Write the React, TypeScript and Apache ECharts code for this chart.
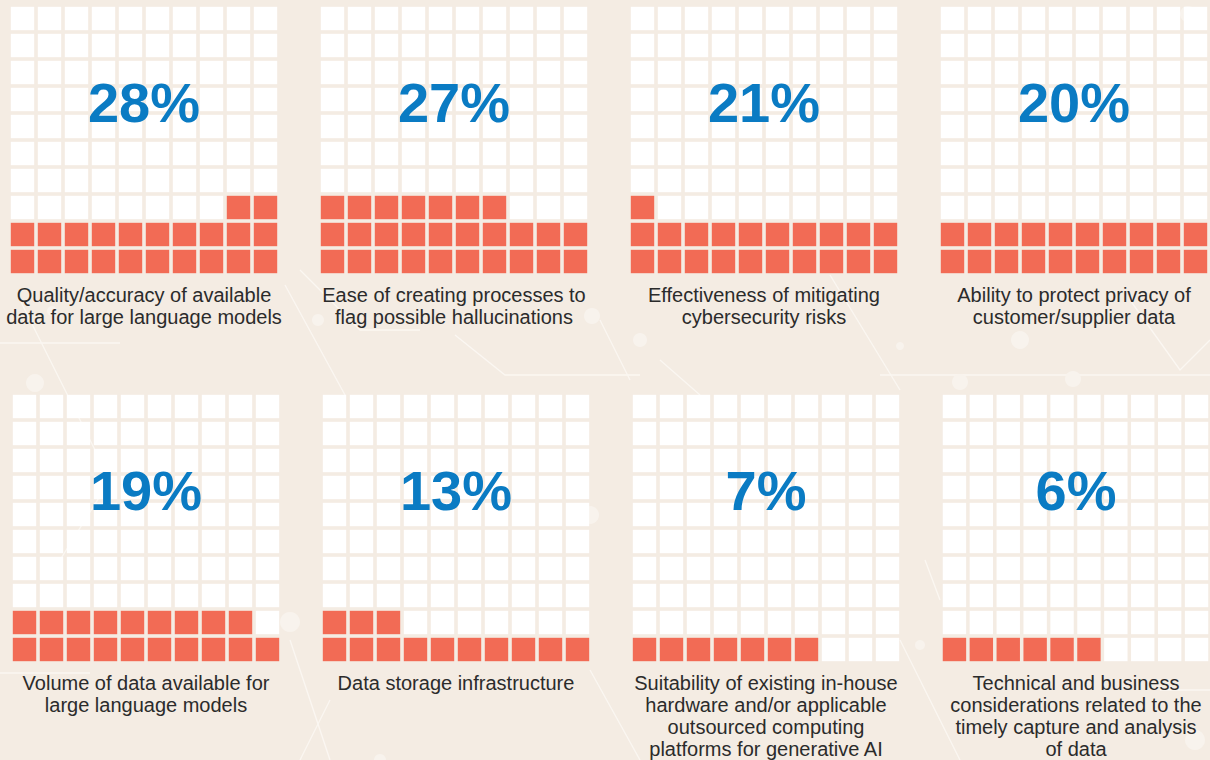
import React, { useEffect, useRef } from "react";
import * as echarts from "echarts";

// ---- data ----
const labels = [
  "Quality/accuracy of available\ndata for large language models",
  "Ease of creating processes to\nflag possible hallucinations",
  "Effectiveness of mitigating\ncybersecurity risks",
  "Ability to protect privacy of\ncustomer/supplier data",
  "Volume of data available for\nlarge language models",
  "Data storage infrastructure",
  "Suitability of existing in-house\nhardware and/or applicable\noutsourced computing\nplatforms for generative AI",
  "Technical and business\nconsiderations related to the\ntimely capture and analysis\nof data",
];
const percents = [28, 27, 21, 20, 19, 13, 7, 6];
// squares coloured in the reference waffle (out of 100)
const filledCells = [22, 27, 21, 20, 19, 13, 7, 6];
// side of the partial row where coloured squares sit
const partialAlign = ["right", "left", "left", "left", "left", "left", "left", "left"];

const COLS = 10;
const ROWS = 10;

// ---- layout / style ----
const BG = "#f4ece3";
const ORANGE = "#f26b55";
const BLUE = "#0a7bc3";
const TEXT = "#2b2b2b";
const GRID_SIZE = 270;
const CELL = 23.4;
const rowLefts = [
  [9, 319, 629, 939],
  [11, 321, 631, 941],
];
const rowTops = [5, 393];
const FONT = '"Liberation Sans", Arial, Helvetica, sans-serif';

function cellsFor(p: number) {
  const n = filledCells[p];
  const full = Math.floor(n / COLS);
  const rem = n % COLS;
  const filled = new Set<string>();
  for (let r = 0; r < full; r++) for (let c = 0; c < COLS; c++) filled.add(r + "," + c);
  for (let i = 0; i < rem; i++) {
    const c = partialAlign[p] === "right" ? COLS - 1 - i : i;
    filled.add(full + "," + c);
  }
  const data: any[] = [];
  for (let r = 0; r < ROWS; r++) {
    for (let c = 0; c < COLS; c++) {
      const on = filled.has(r + "," + c);
      data.push({ value: [c + 0.5, r + 0.5], itemStyle: { color: on ? ORANGE : "#ffffff", opacity: 1 } });
    }
  }
  return data;
}

const decoLine = (points: number[][]) => ({
  type: "polyline",
  silent: true,
  z: -10,
  shape: { points },
  style: { stroke: "#fbf7f2", lineWidth: 1.3, fill: null },
});
const decoCircle = (cx: number, cy: number, r: number) => ({
  type: "circle",
  silent: true,
  z: -10,
  shape: { cx, cy, r },
  style: { fill: "#f8f3ed" },
});

export default function App() {
  const ref = useRef<HTMLDivElement>(null);
  useEffect(() => {
    document.body.style.margin = "0";
    const chart = echarts.init(ref.current!, null, { renderer: "svg" });
    const grids: any[] = [];
    const xAxes: any[] = [];
    const yAxes: any[] = [];
    const series: any[] = [];
    const texts: any[] = [];
    for (let p = 0; p < percents.length; p++) {
      const row = Math.floor(p / 4);
      const col = p % 4;
      const left = rowLefts[row][col];
      const top = rowTops[row];
      grids.push({ left, top, width: GRID_SIZE, height: GRID_SIZE, containLabel: false });
      xAxes.push({ type: "value", gridIndex: p, min: 0, max: COLS, show: false });
      yAxes.push({ type: "value", gridIndex: p, min: 0, max: ROWS, show: false });
      series.push({
        type: "scatter",
        xAxisIndex: p,
        yAxisIndex: p,
        symbol: "rect",
        symbolSize: CELL,
        silent: true,
        itemStyle: { opacity: 1 },
        data: cellsFor(p),
      });
      const cx = left + GRID_SIZE / 2;
      texts.push({
        type: "text",
        z: 100,
        x: cx,
        y: top + 97,
        style: {
          text: percents[p] + "%",
          font: `bold 56px ${FONT}`,
          fill: BLUE,
          align: "center",
          verticalAlign: "middle",
        },
      });
      texts.push({
        type: "text",
        z: 100,
        x: cx,
        y: top + 279,
        style: {
          text: labels[p],
          font: `20px ${FONT}`,
          lineHeight: 22,
          fill: TEXT,
          align: "center",
          verticalAlign: "top",
        },
      });
    }
    const deco = [
      decoLine([[0, 343], [120, 343]]),
      decoLine([[20, 300], [110, 480], [60, 560]]),
      decoLine([[285, 285], [345, 395]]),
      decoLine([[300, 270], [360, 330], [420, 330]]),
      decoLine([[455, 335], [505, 375], [640, 375]]),
      decoLine([[600, 320], [630, 380]]),
      decoLine([[660, 360], [700, 395]]),
      decoLine([[880, 375], [1210, 375]]),
      decoLine([[830, 275], [900, 390]]),
      decoLine([[1130, 300], [1180, 370], [1210, 340]]),
      decoLine([[0, 673], [90, 673]]),
      decoLine([[290, 640], [330, 760]]),
      decoLine([[300, 760], [330, 700]]),
      decoLine([[590, 670], [640, 760]]),
      decoLine([[900, 640], [960, 760]]),
      decoLine([[1160, 690], [1210, 690]]),
      decoLine([[925, 560], [940, 600]]),
      decoCircle(35, 383, 9),
      decoCircle(52, 311, 5),
      decoCircle(290, 622, 10),
      decoCircle(318, 320, 6),
      decoCircle(590, 515, 9),
      decoCircle(592, 316, 8),
      decoCircle(640, 340, 7),
      decoCircle(1188, 14, 8),
      decoCircle(960, 382, 8),
      decoCircle(1020, 340, 9),
      decoCircle(1073, 379, 8),
      decoCircle(900, 346, 4),
      decoCircle(1195, 740, 10),
      decoCircle(920, 645, 5),
      decoCircle(380, 760, 6),
    ];
    chart.setOption({
      animation: false,
      backgroundColor: BG,
      grid: grids,
      xAxis: xAxes,
      yAxis: yAxes,
      series,
      graphic: { elements: [...deco, ...texts] },
    });
    return () => chart.dispose();
  }, []);
  return (
    <div
      ref={ref}
      style={{ position: "fixed", left: 0, top: 0, width: 1210, height: 760 }}
    />
  );
}
